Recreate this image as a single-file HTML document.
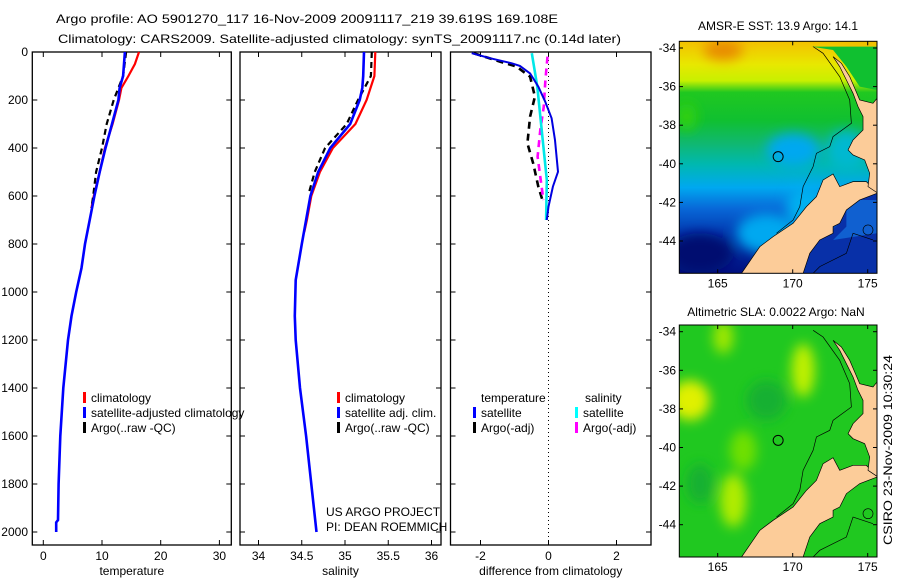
<!DOCTYPE html>
<html><head><meta charset="utf-8"><style>
html,body{margin:0;padding:0;background:#fff;}
svg{display:block;font-family:"Liberation Sans",sans-serif;}
text{font-size:12px;fill:#000;}
</style></head><body>
<svg id="fig" width="900" height="580" viewBox="0 0 900 580" xmlns="http://www.w3.org/2000/svg">
<defs>
<linearGradient id="sstg" x1="0" y1="0" x2="0" y2="1">
<stop offset="0" stop-color="#f4c000"/><stop offset="0.1" stop-color="#e8e800"/><stop offset="0.17" stop-color="#c8f000"/><stop offset="0.22" stop-color="#20c820"/>
<stop offset="0.34" stop-color="#10c030"/><stop offset="0.44" stop-color="#10b870"/><stop offset="0.53" stop-color="#00b8b0"/>
<stop offset="0.63" stop-color="#00a8f0"/><stop offset="0.72" stop-color="#0868d8"/><stop offset="0.85" stop-color="#0030a8"/><stop offset="1" stop-color="#001080"/>
</linearGradient>
<filter id="bl" x="-50%" y="-50%" width="200%" height="200%"><feGaussianBlur stdDeviation="18"/></filter>
</defs>

<g>
<text x="56" y="23" font-size="13" textLength="502" lengthAdjust="spacingAndGlyphs">Argo profile: AO 5901270_117 16-Nov-2009 20091117_219 39.619S 169.108E</text>
<text x="58" y="43" font-size="13" textLength="563" lengthAdjust="spacingAndGlyphs">Climatology: CARS2009. Satellite-adjusted climatology: synTS_20091117.nc (0.14d later)</text>
</g>

<g id="panels"></g>

<!-- Map 1 -->
<g>
<text x="778" y="30" text-anchor="middle">AMSR-E SST: 13.9 Argo: 14.1</text>
<svg x="679.3" y="41.3" width="197.7" height="232" viewBox="58 124 594 696" preserveAspectRatio="none">
<rect x="58" y="124" width="594" height="696" fill="url(#sstg)"/>
<g filter="url(#bl)">
<ellipse cx="190" cy="150" rx="60" ry="30" fill="#e88a00"/>
<ellipse cx="600" cy="150" rx="60" ry="40" fill="#f0c000"/>
<ellipse cx="80" cy="350" rx="30" ry="40" fill="#30d010"/>
<ellipse cx="120" cy="760" rx="100" ry="60" fill="#001070"/>
<ellipse cx="400" cy="450" rx="80" ry="50" fill="#00a8f0"/>
<ellipse cx="560" cy="450" rx="60" ry="60" fill="#00b8d0"/>
<ellipse cx="320" cy="700" rx="90" ry="60" fill="#00a8f0"/>
<ellipse cx="440" cy="620" rx="60" ry="60" fill="#00b0f0"/>
</g>
<polygon points="455,140 520,150 560,200 600,260 652,270 652,140" fill="#10c030"/>
<polygon points="652,575 600,590 560,620 530,680 480,720 450,760 430,820 652,820" fill="#0830a8"/>
<polygon points="652,600 600,600 560,630 560,680 520,720 652,700" fill="#1060d0"/>
<polygon points="245,820 300,740 340,710 400,670 440,620 470,590 490,540 520,522 540,560 580,545 620,545 652,578 652,580 600,600 560,630 540,670 520,680 520,700 480,720 450,760 430,820" fill="#fccc99" stroke="#000" stroke-width="2"/>
<polygon points="520,170 545,190 570,230 585,265 600,300 640,310 652,295 652,578 625,560 630,520 615,480 580,465 565,450 580,420 610,390 610,350 595,320 580,280 560,240 540,200" fill="#fccc99" stroke="#000" stroke-width="2"/>
<polyline points="460,140 490,160 540,230 570,300 575,370 520,410 510,440 470,460 460,500 430,560 420,620 400,660 350,700" fill="none" stroke="#000" stroke-width="2"/>
<polyline points="640,720 580,700 560,760 480,800 460,820" fill="none" stroke="#000" stroke-width="2"/>
<circle cx="355" cy="470" r="15" fill="none" stroke="#000" stroke-width="3"/>
<circle cx="625" cy="690" r="15" fill="none" stroke="#000" stroke-width="2"/>
</svg>
<rect x="679.3" y="41.3" width="197.7" height="232" fill="none" stroke="#000" stroke-width="1"/>
</g>

<!-- Map 2 -->
<g>
<text x="776" y="316" text-anchor="middle">Altimetric SLA: 0.0022 Argo: NaN</text>
<svg x="679.3" y="325" width="197.7" height="232" viewBox="58 124 594 696" preserveAspectRatio="none">
<rect x="58" y="124" width="594" height="696" fill="#20c820"/>
<g filter="url(#bl)">
<ellipse cx="90" cy="350" rx="60" ry="60" fill="#e0f000"/>
<ellipse cx="190" cy="160" rx="30" ry="50" fill="#a0e800"/>
<ellipse cx="430" cy="260" rx="35" ry="80" fill="#c0f000"/>
<ellipse cx="220" cy="650" rx="40" ry="80" fill="#b0ec00"/>
<ellipse cx="250" cy="500" rx="40" ry="60" fill="#70e000"/>
<ellipse cx="320" cy="350" rx="60" ry="60" fill="#18b030"/>
<ellipse cx="120" cy="600" rx="40" ry="60" fill="#18b030"/>
</g>
<polygon points="245,820 300,740 340,710 400,670 440,620 470,590 490,540 520,522 540,560 580,545 620,545 652,578 652,580 600,600 560,630 540,670 520,680 520,700 480,720 450,760 430,820" fill="#fccc99" stroke="#000" stroke-width="2"/>
<polygon points="520,170 545,190 570,230 585,265 600,300 640,310 652,295 652,578 625,560 630,520 615,480 580,465 565,450 580,420 610,390 610,350 595,320 580,280 560,240 540,200" fill="#fccc99" stroke="#000" stroke-width="2"/>
<polyline points="460,140 490,160 540,230 570,300 575,370 520,410 510,440 470,460 460,500 430,560 420,620 400,660 350,700" fill="none" stroke="#000" stroke-width="2"/>
<polyline points="640,720 580,700 560,760 480,800 460,820" fill="none" stroke="#000" stroke-width="2"/>
<circle cx="355" cy="470" r="15" fill="none" stroke="#000" stroke-width="3"/>
<circle cx="625" cy="690" r="15" fill="none" stroke="#000" stroke-width="2"/>
</svg>
<rect x="679.3" y="325" width="197.7" height="232" fill="none" stroke="#000" stroke-width="1"/>
</g>
<g id="mapaxes"></g>

<text transform="translate(892,545) rotate(-90)" font-size="12" textLength="190" lengthAdjust="spacingAndGlyphs">CSIRO 23-Nov-2009 10:30:24</text>
<text x="326" y="516">US ARGO PROJECT</text>
<text x="326" y="531">PI: DEAN ROEMMICH</text>
</svg>
<script>
// ---- data ----
const depthTicks = [0,200,400,600,800,1000,1200,1400,1600,1800,2000];
const tempTicks = [0,10,20,30];
const salTicks = [34,34.5,35,35.5,36];
const diffTicks = [-2,0,2];
const tClimDepth = [0,50,100,150,200,300,400,500,600,650];
const tClimVal = [16.3,15.6,14.5,13.3,12.9,11.8,10.5,9.6,8.6,8.2];
const tSatDepth = [0,100,150,200,300,400,500,600,700,800,900,1000,1100,1200,1400,1600,1800,1950,1960,2000];
const tSatVal = [13.9,13.6,13.0,12.8,11.7,10.6,9.6,8.7,7.9,7.1,6.5,5.6,4.8,4.2,3.4,2.9,2.6,2.5,2.2,2.2];
const tArgoDepth = [0,100,200,300,400,500,600,650];
const tArgoVal = [14.1,13.6,12.0,10.8,10.0,9.0,8.5,8.2];
const sClimDepth = [0,100,200,300,400,500,600,700,750];
const sClimVal = [35.35,35.34,35.25,35.12,34.86,34.71,34.61,34.56,34.53];
const sSatDepth = [0,100,150,200,300,400,500,600,700,800,950,1100,1200,1400,1600,1800,2000];
const sSatVal = [35.22,35.21,35.2,35.17,35.06,34.83,34.69,34.6,34.55,34.5,34.43,34.42,34.43,34.48,34.55,34.61,34.67];
const sArgoDepth = [0,100,200,300,400,500,590];
const sArgoVal = [35.31,35.3,35.15,35.02,34.77,34.65,34.58];
const dTSatDepth = [5,26,47,58,89,144,206,276,367,499,561,644,700];
const dTSatVal = [-2.26,-1.72,-1.08,-0.84,-0.54,-0.3,-0.1,0.09,0.19,0.28,0.13,0,-0.05];
const dTArgoDepth = [5,40,61,103,186,269,381,464,561,630];
const dTArgoVal = [-2.2,-1.43,-0.94,-0.54,-0.4,-0.54,-0.62,-0.45,-0.3,-0.15];
const dSSatDepth = [5,144,255,394,533,700];
const dSSatVal = [-0.49,-0.33,-0.25,-0.15,-0.05,-0.07];
const dSArgoDepth = [19,117,230,325,436,533,617];
const dSArgoVal = [-0.03,-0.09,-0.14,-0.24,-0.32,-0.23,-0.15];
const lonTicks = [165,170,175];
const latTicks = [-34,-36,-38,-40,-42,-44];

// ---- axes ----
const NS='http://www.w3.org/2000/svg';
const TOP=52, BOT=545;
const yD = d => TOP + d*0.24;
const xT = v => 43.3 + (v-0)*5.87;
const xS = v => 258.5 + (v-34)*86.5;
const xD = v => 548.5 + v*34;
const root=document.getElementById('panels');
function mk(tag,attrs,parent){const e=document.createElementNS(NS,tag);for(const k in attrs)e.setAttribute(k,attrs[k]);(parent||root).appendChild(e);return e;}
function txt(x,y,s,anchor,parent){const t=mk('text',{x:x,y:y,'text-anchor':anchor||'start'},parent);t.textContent=s;return t;}

const panels=[{x0:32.3,x1:231.3,xf:xT,ticks:tempTicks,lab:'temperature',name:'temperature-panel'},
{x0:240,x1:441,xf:xS,ticks:salTicks,lab:'salinity',name:'salinity-panel'},
{x0:450.5,x1:651,xf:xD,ticks:diffTicks,lab:'difference from climatology',name:'difference-panel'}];
panels.forEach((p,i)=>{
  const g=mk('g',{});
  
  
  p.g=g;
  mk('rect',{x:p.x0,y:TOP,width:p.x1-p.x0,height:BOT-TOP,fill:'none',stroke:'#000','stroke-width':1.3},g);
  depthTicks.forEach(d=>{
    mk('line',{x1:p.x0,x2:p.x0+5,y1:yD(d),y2:yD(d),stroke:'#000'},g);
    mk('line',{x1:p.x1,x2:p.x1-5,y1:yD(d),y2:yD(d),stroke:'#000'},g);
  });
  p.ticks.forEach(v=>{
    const x=p.xf(v);
    mk('line',{x1:x,x2:x,y1:BOT,y2:BOT-5,stroke:'#000'},g);
    mk('line',{x1:x,x2:x,y1:TOP,y2:TOP+5,stroke:'#000'},g);
    const t=txt(x,560,String(v),'middle',g);
    
    
  });
  const xt=txt((p.x0+p.x1)/2,575,p.lab,'middle',g);
  
  
});
depthTicks.forEach(d=>{
  const t=txt(28,yD(d)+4,String(d),'end');
  
  
});
mk('line',{x1:xD(0),x2:xD(0),y1:TOP,y2:BOT,stroke:'#000','stroke-dasharray':'1,3'},panels[2].g);

function series(g,xf,D,V,color,dash,name,w){
  const pts=D.map((d,i)=>xf(V[i]).toFixed(1)+','+yD(d).toFixed(1)).join(' ');
  const l=mk('polyline',{points:pts,fill:'none',stroke:color,'stroke-width':w||2.2},g);
  if(dash)l.setAttribute('stroke-dasharray',dash);
  
  
}
series(panels[0].g,xT,tClimDepth,tClimVal,'#ff0000',null,'temperature-climatology-line');
series(panels[0].g,xT,tArgoDepth,tArgoVal,'#000',"6,4",'temperature-argo-line');
series(panels[0].g,xT,tSatDepth,tSatVal,'#0000ff',null,'temperature-satellite-line',2.6);
series(panels[1].g,xS,sClimDepth,sClimVal,'#ff0000',null,'salinity-climatology-line');
series(panels[1].g,xS,sArgoDepth,sArgoVal,'#000',"6,4",'salinity-argo-line');
series(panels[1].g,xS,sSatDepth,sSatVal,'#0000ff',null,'salinity-satellite-line',2.6);
series(panels[2].g,xD,dTArgoDepth,dTArgoVal,'#000',"7,5",'temperature-argo-diff-line',2.6);
series(panels[2].g,xD,dSArgoDepth,dSArgoVal,'#ff00ff',"7,5",'salinity-argo-diff-line',2.6);
series(panels[2].g,xD,dSSatDepth,dSSatVal,'#00e8e8',null,'salinity-satellite-diff-line',2.6);
series(panels[2].g,xD,dTSatDepth,dTSatVal,'#0000e0',null,'temperature-satellite-diff-line',2);

function legend(g,bx,items,name){
  const lg=mk('g',{},g);
  
  
  items.forEach((it,i)=>{
    const y=398+i*15;
    if(it[0])mk('rect',{x:bx,y:y-6,width:3,height:11,fill:it[0]},lg);
    const t=txt(bx+(it[0]?8:0),y+4,it[1],'start',lg);
    
    
  });
}
legend(panels[0].g,83,[['#ff0000','climatology'],['#0000ff','satellite-adjusted climatology'],['#000','Argo(..raw -QC)']],'temperature-legend');
legend(panels[1].g,337,[['#ff0000','climatology'],['#0000ff','satellite adj. clim.'],['#000','Argo(..raw -QC)']],'salinity-legend');
legend(panels[2].g,473,[[null,''],['#0000ff','satellite'],['#000','Argo(-adj)']],'difference-temp-legend');
legend(panels[2].g,575,[[null,''],['#00ffff','satellite'],['#ff00ff','Argo(-adj)']],'difference-sal-legend');
txt(481,402,'temperature','start',panels[2].g);
txt(585,402,'salinity','start',panels[2].g);

// map axes
const ma=document.getElementById('mapaxes');
const lonX = v => 717.7 + (v-165)*15;
const latY = (v,top) => top + 6.7 + (-34 - v)*19.3;
[41.3,325].forEach((top,k)=>{
  const bot=top+232;
  lonTicks.forEach(v=>{
    mk('line',{x1:lonX(v),x2:lonX(v),y1:bot,y2:bot-4,stroke:'#000'},ma);
    mk('line',{x1:lonX(v),x2:lonX(v),y1:top,y2:top+4,stroke:'#000'},ma);
    const t=txt(lonX(v),bot+14,String(v),'middle',ma);
    
    
  });
  latTicks.forEach(v=>{
    const y=latY(v,top);
    mk('line',{x1:679.3,x2:683,y1:y,y2:y,stroke:'#000'},ma);
    mk('line',{x1:877,x2:873,y1:y,y2:y,stroke:'#000'},ma);
    const t=txt(676,y+4,String(v),'end',ma);
    
    
  });
});
</script>
</body></html>
